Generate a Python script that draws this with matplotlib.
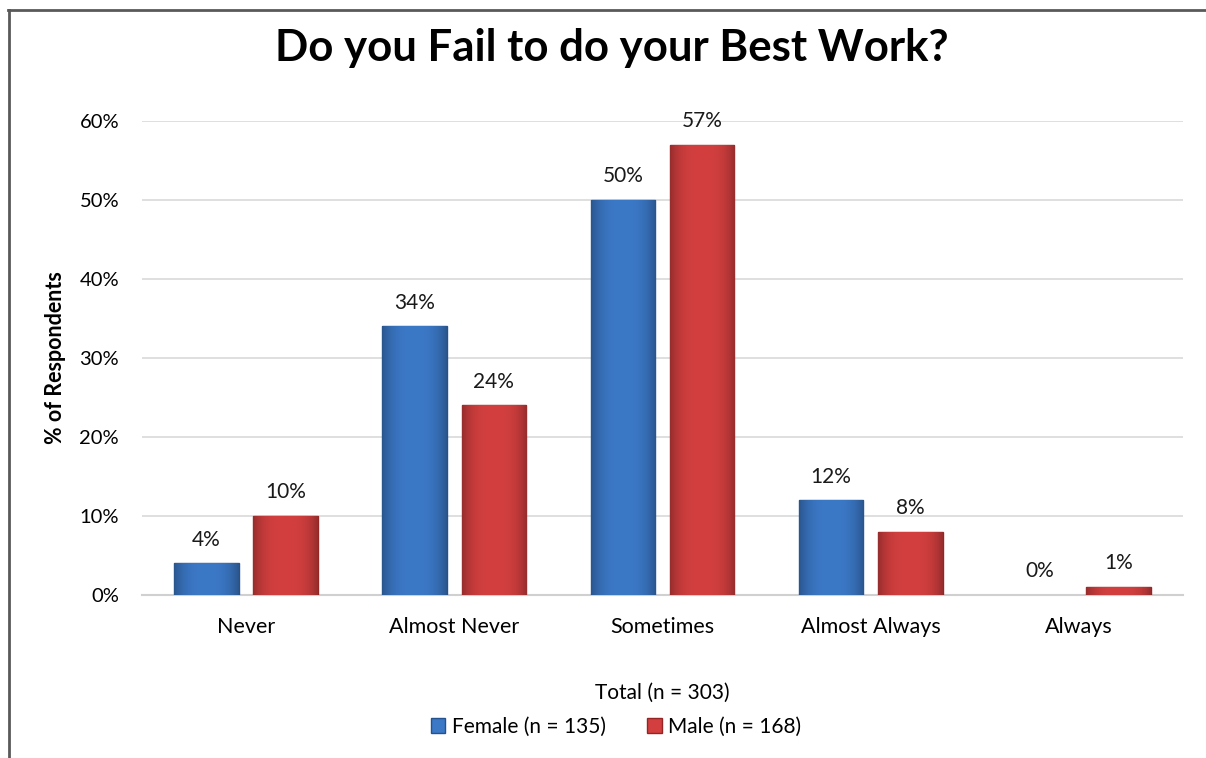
import matplotlib
matplotlib.use("Agg")
import matplotlib.pyplot as plt
import numpy as np
from matplotlib.patches import Patch
from matplotlib.lines import Line2D
from matplotlib.colors import to_rgb

categories = ["Never", "Almost Never", "Sometimes", "Almost Always", "Always"]
female = [4, 34, 50, 12, 0]
male = [10, 24, 57, 8, 1]
series_names = ["Female (n = 135)", "Male (n = 168)"]
yticks = [0, 10, 20, 30, 40, 50, 60]
title = "Do you Fail to do your Best Work?"
xlabel = "Total (n = 303)"
ylabel = "% of Respondents"

plt.rcParams['font.family'] = ['Lato', 'DejaVu Sans']

W, H = 1206, 758
fig = plt.figure(figsize=(W / 100, H / 100), dpi=100)
ax = fig.add_axes([142 / W, 1 - 595 / H, (1183 - 142) / W, (595 - 121) / H])

x = np.arange(len(categories))
bw = 0.31
off = 0.19
colors = ["#3b78c6", "#d33f3f"]
edges = ["#24528f", "#952525"]


def gradient_img(color):
    base = np.array(to_rgb(color))
    n = 64
    t = np.linspace(0, 1, n)
    f = 1.0 - 0.28 * (np.abs(t - 0.5) * 2) ** 3
    img = np.clip(base[None, :] * f[:, None], 0, 1)
    return img[None, :, :]


for vals, sign, c, e in [(female, -1, colors[0], edges[0]), (male, 1, colors[1], edges[1])]:
    bars = ax.bar(x + sign * off, vals, bw, color=c,
                  edgecolor=[e if v > 0 else "none" for v in vals],
                  linewidth=1.0, zorder=3)
    img = gradient_img(c)
    for b, v in zip(bars, vals):
        if v > 0:
            x0 = b.get_x()
            im = ax.imshow(img, extent=(x0, x0 + b.get_width(), 0, v), aspect="auto",
                           zorder=3.5, interpolation="bilinear")
            im.set_clip_path(b)
        ax.annotate(f"{v}%", (b.get_x() + b.get_width() / 2, v), xytext=(0, 17),
                    textcoords="offset points", ha="center", va="center",
                    fontsize=15, color="#1a1a1a")

ax.set_xlim(-0.5, len(categories) - 0.5)
ax.set_ylim(0, 60)
ax.set_yticks(yticks)
ax.set_yticklabels([f"{t}%" for t in yticks], fontsize=14.5)
ax.set_xticks(x)
ax.set_xticklabels(categories, fontsize=15.5)
ax.tick_params(axis='x', length=0, pad=16)
ax.tick_params(axis='y', length=0, pad=16.5)
ax.grid(axis='y', color="#d9d9d9", linewidth=1.2, zorder=0)
for s in ["top", "right", "left"]:
    ax.spines[s].set_visible(False)
ax.spines["bottom"].set_color("#d0d0d0")
ax.spines["bottom"].set_linewidth(1.5)

ax.set_xlabel(xlabel, fontsize=15, labelpad=33)
ax.set_ylabel(ylabel, fontsize=15.5, fontweight="bold", va="center")
ax.yaxis.set_label_coords((56 - 142) / (1183 - 142), 0.5)

fig.text(612 / W, 1 - 48 / H, title, ha="center", va="center", fontsize=31.5, fontweight="bold")

handles = [Patch(facecolor=colors[0], edgecolor=edges[0]), Patch(facecolor=colors[1], edgecolor=edges[1])]
fig.legend(handles, series_names, loc="center", bbox_to_anchor=(616 / W, 1 - 727 / H), ncol=2,
           frameon=False, fontsize=15, handlelength=0.7, handleheight=0.7,
           handletextpad=0.3, columnspacing=2.0)

# outer border (left and top)
fig.add_artist(Line2D([9 / W, 9 / W], [0, 1 - 10 / H], transform=fig.transFigure, color="#595959", linewidth=2))
fig.add_artist(Line2D([8 / W, 1], [1 - 10 / H, 1 - 10 / H], transform=fig.transFigure, color="#595959", linewidth=2))

fig.savefig("out.png", dpi=100)
